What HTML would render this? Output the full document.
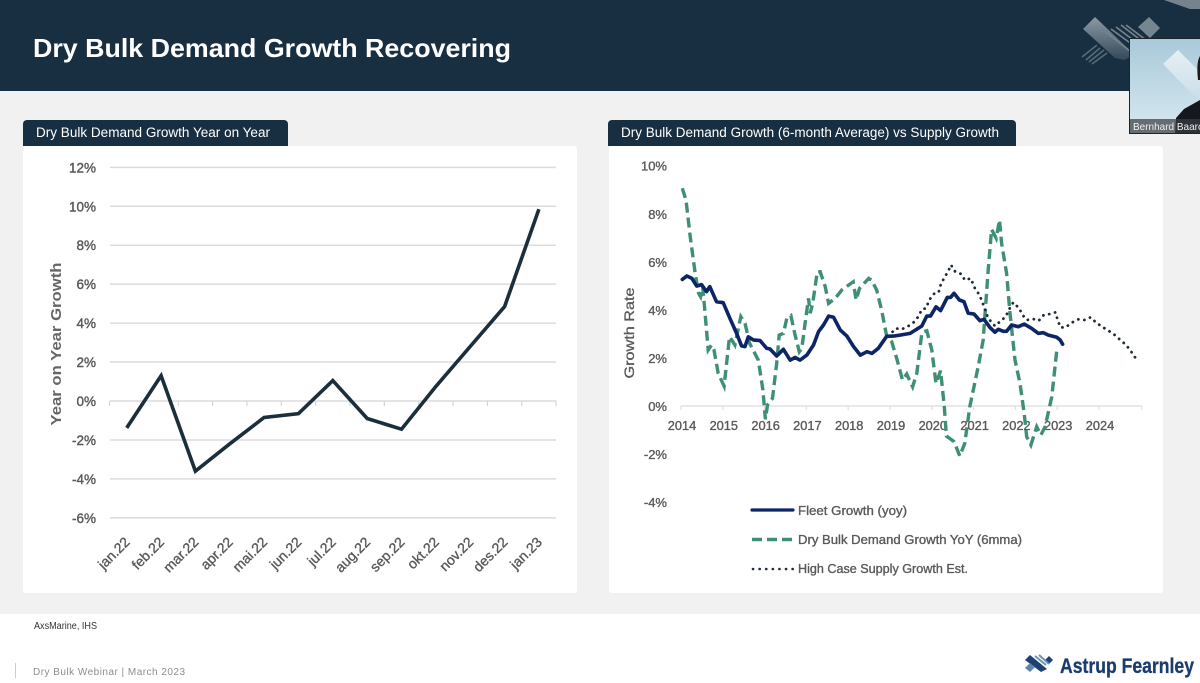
<!DOCTYPE html>
<html lang="en">
<head>
<meta charset="utf-8">
<title>Dry Bulk Demand Growth Recovering</title>
<style>
html,body{margin:0;padding:0;background:#fff;width:1200px;height:683px;overflow:hidden}
svg{display:block}
text{font-family:"Liberation Sans",sans-serif}
</style>
</head>
<body>
<svg id="slide" xmlns="http://www.w3.org/2000/svg" width="1200" height="683" viewBox="0 0 1200 683">
  <defs>
    <linearGradient id="logoGrad" x1="0" y1="0" x2="0" y2="1">
      <stop offset="0" stop-color="#8b99a3"/>
      <stop offset="1" stop-color="#34495a"/>
    </linearGradient>
    <linearGradient id="camGrad" x1="0" y1="0" x2="0" y2="1">
      <stop offset="0" stop-color="#a9c9d9"/>
      <stop offset="1" stop-color="#d8e9f1"/>
    </linearGradient>
    <linearGradient id="camLogoGrad" x1="0" y1="0" x2="0" y2="1">
      <stop offset="0" stop-color="#e6eff3"/>
      <stop offset="1" stop-color="#c9dfe9"/>
    </linearGradient>
    <clipPath id="camClip"><rect x="1130" y="39" width="70" height="94"/></clipPath>
  </defs>

  <rect x="0" y="91" width="1200" height="523" fill="#f1f1f2"/>
  <rect x="0" y="0" width="1200" height="91" fill="#182f42"/>
  <text x="33" y="57" font-size="26" font-weight="700" fill="#ffffff" textLength="478" lengthAdjust="spacingAndGlyphs">Dry Bulk Demand Growth Recovering</text>

  <g>
    <polygon points="1164,0 1200,0 1200,9 1190,9" fill="#74838e"/>
    <polygon points="1083,29 1095,17 1135,55 1124,60 1115,58" fill="url(#logoGrad)"/>
    <polygon points="1138,27 1149,17 1160,28 1150,38" fill="#76868f"/>
    <path d="M1106,32 L1131,52 M1111,29 L1137,48 M1116,27 L1141,46 M1121,25 L1143,42 M1126,25 L1146,40" stroke="#75858f" stroke-width="1.6" fill="none"/>
    <path d="M1082,57 L1097,45 M1086,60 L1100,48 M1089,62 L1104,50 M1092,64 L1107,53" stroke="#566c7b" stroke-width="1.6" fill="none"/>
  </g>

  <g>
    <rect x="1129" y="38" width="71" height="96" fill="#1d2327"/>
    <g clip-path="url(#camClip)">
      <rect x="1130" y="39" width="70" height="94" fill="url(#camGrad)"/>
      <polygon points="1163,64 1178,50 1200,72 1200,100 1190,92" fill="url(#camLogoGrad)"/>
      <path d="M1175,133 L1176,118 L1184,109 L1200,100 L1200,133 Z" fill="#14181d"/>
      <path d="M1198,80 Q1196,62 1200,56 L1200,80 Z" fill="#1c1a1a"/>
      <rect x="1130" y="119" width="70" height="14" fill="#3a3f43" fill-opacity="0.72"/>
      <text x="1133" y="130" font-size="10.5" fill="#f0f0f0" textLength="70" lengthAdjust="spacingAndGlyphs">Bernhard Baarc</text>
    </g>
  </g>

  <rect x="23" y="146" width="554" height="447" rx="3" fill="#ffffff"/>
  <rect x="609" y="146" width="554" height="447" rx="3" fill="#ffffff"/>

  <path d="M23,146 V124 a4,4 0 0 1 4,-4 H284 a4,4 0 0 1 4,4 V146 Z" fill="#182f42"/>
  <text x="36" y="137" font-size="13.5" fill="#ffffff" textLength="234" lengthAdjust="spacingAndGlyphs">Dry Bulk Demand Growth Year on Year</text>
  <path d="M608,146 V124 a4,4 0 0 1 4,-4 H1012 a4,4 0 0 1 4,4 V146 Z" fill="#182f42"/>
  <text x="621" y="137" font-size="13.5" fill="#ffffff" textLength="378" lengthAdjust="spacingAndGlyphs">Dry Bulk Demand Growth (6-month Average) vs Supply Growth</text>

  <g id="leftChart">
    <text transform="translate(61,344) rotate(-90)" text-anchor="middle" font-size="14.5" font-weight="700" fill="#666666" textLength="163" lengthAdjust="spacingAndGlyphs">Year on Year Growth</text>
  </g>

  <g id="rightChart">
    <text transform="translate(634,333) rotate(-90)" text-anchor="middle" font-size="14" fill="#595959" stroke="#595959" stroke-width="0.3" textLength="91" lengthAdjust="spacingAndGlyphs">Growth Rate</text>
  </g>

  <g>
    <g>
      <line x1="752" y1="510" x2="793" y2="510" stroke="#0b2566" stroke-width="3.2" stroke-linecap="round"/>
      <text x="798" y="515" font-size="13" fill="#595959" stroke="#595959" stroke-width="0.35" textLength="109" lengthAdjust="spacingAndGlyphs">Fleet Growth (yoy)</text>
    </g>
    <g>
      <line x1="752" y1="539.5" x2="793" y2="539.5" stroke="#3f8f77" stroke-width="3.4" stroke-dasharray="10 5"/>
      <text x="798" y="544" font-size="13" fill="#595959" stroke="#595959" stroke-width="0.35" textLength="224" lengthAdjust="spacingAndGlyphs">Dry Bulk Demand Growth YoY (6mma)</text>
    </g>
    <g>
      <line x1="753" y1="569" x2="793" y2="569" stroke="#1d2c38" stroke-width="2.6" stroke-dasharray="0.1 6.5" stroke-linecap="round"/>
      <text x="798" y="573" font-size="13" fill="#595959" stroke="#595959" stroke-width="0.35" textLength="170" lengthAdjust="spacingAndGlyphs">High Case Supply Growth Est.</text>
    </g>
  </g>

  <text x="34" y="629" font-size="10" fill="#333333" textLength="63" lengthAdjust="spacingAndGlyphs">AxsMarine, IHS</text>
  <line x1="15.5" y1="663" x2="15.5" y2="678" stroke="#c9cdd0" stroke-width="1"/>
  <text x="33" y="675" font-size="10" fill="#8a8f93" textLength="152" lengthAdjust="spacing">Dry Bulk Webinar | March 2023</text>

  <g>
    <polygon points="1025,660 1030,655 1047,669 1041,672" fill="#1c4272"/>
    <polygon points="1045,660 1049,656 1053,660 1049,664" fill="#1c4272"/>
    <path d="M1035,656 L1046,665 M1039,655 L1049,664" stroke="#6f90b5" stroke-width="2" fill="none"/>
    <polygon points="1025,668 1030,663 1035,667 1030,672" fill="#5f84ad"/>
    <text x="1060" y="673" font-size="21" font-weight="700" fill="#1a3c6e" stroke="#1a3c6e" stroke-width="0.3" textLength="134" lengthAdjust="spacingAndGlyphs">Astrup Fearnley</text>
  </g>
</svg>

<script>
// Left chart data
const leftCategories = ['jan.22','feb.22','mar.22','apr.22','mai.22','jun.22','jul.22','aug.22','sep.22','okt.22','nov.22','des.22','jan.23'];
const leftValues = [-1.38,1.3,-3.6,-2.2,-0.85,-0.65,1.05,-0.9,-1.45,0.75,2.8,4.85,9.85];
const leftTicks = [12,10,8,6,4,2,0,-2,-4,-6];

// Right chart data
const rightTicks = [10,8,6,4,2,0,-2,-4];
const rightYears = [2014,2015,2016,2017,2018,2019,2020,2021,2022,2023,2024];
const fleetDates = [2014.03,2014.14,2014.26,2014.375,2014.49,2014.61,2014.69,2014.85,2015.01,2015.17,2015.33,2015.45,2015.53,2015.61,2015.73,2015.89,2016.05,2016.13,2016.29,2016.45,2016.61,2016.73,2016.85,2017.01,2017.17,2017.29,2017.41,2017.53,2017.65,2017.81,2017.97,2018.13,2018.29,2018.45,2018.57,2018.72,2018.92,2019.08,2019.24,2019.48,2019.76,2019.88,2019.97,2020.10,2020.21,2020.37,2020.45,2020.53,2020.66,2020.77,2020.87,2021.01,2021.15,2021.25,2021.39,2021.51,2021.59,2021.71,2021.79,2021.91,2022.07,2022.21,2022.39,2022.55,2022.67,2022.79,2022.99,2023.07,2023.13];
const fleetValues = [5.27,5.41,5.31,4.99,5.05,4.76,4.97,4.34,4.30,3.65,3.02,2.50,2.47,2.88,2.75,2.72,2.40,2.37,2.08,2.36,1.91,2.02,1.91,2.12,2.54,3.09,3.37,3.74,3.69,3.16,2.91,2.47,2.12,2.26,2.19,2.40,2.90,2.91,2.95,3.02,3.33,3.74,3.74,4.13,3.97,4.52,4.52,4.69,4.41,4.34,3.86,3.83,3.55,3.61,3.27,3.07,3.19,3.11,3.11,3.37,3.30,3.41,3.23,3.02,3.05,2.95,2.86,2.75,2.57];
const demandDates = [2014.03,2014.12,2014.22,2014.34,2014.42,2014.47,2014.52,2014.57,2014.65,2014.73,2014.79,2014.89,2015.03,2015.09,2015.16,2015.24,2015.29,2015.43,2015.53,2015.64,2015.85,2015.96,2016.02,2016.07,2016.19,2016.29,2016.35,2016.45,2016.53,2016.63,2016.73,2016.83,2016.89,2016.97,2017.05,2017.09,2017.15,2017.26,2017.33,2017.45,2017.53,2017.69,2017.85,2018.12,2018.19,2018.27,2018.49,2018.56,2018.68,2018.80,2018.92,2019.04,2019.16,2019.30,2019.40,2019.54,2019.64,2019.76,2019.80,2019.88,2020.00,2020.10,2020.21,2020.30,2020.35,2020.53,2020.67,2020.79,2020.91,2021.11,2021.23,2021.35,2021.43,2021.54,2021.62,2021.67,2021.79,2021.87,2021.99,2022.11,2022.21,2022.27,2022.37,2022.51,2022.61,2022.71,2022.87,2023.00];
const demandValues = [9.06,8.57,7.05,5.52,4.69,4.55,4.97,3.99,2.33,2.54,2.33,1.36,0.83,1.78,2.88,2.68,2.54,3.72,3.44,2.61,1.91,0.67,-0.55,0.04,0.32,1.78,2.95,3.02,3.65,3.76,2.95,2.26,2.40,3.44,4.48,3.86,4.27,5.59,5.59,4.97,4.27,4.48,4.83,5.17,4.41,4.90,5.31,5.24,4.83,3.99,2.90,2.68,1.98,1.08,1.33,0.80,1.36,3.02,3.09,3.13,2.33,0.94,1.47,-0.03,-1.25,-1.48,-2.08,-1.55,-0.03,1.64,2.75,5.66,7.35,6.98,7.74,6.77,5.52,3.86,1.91,0.94,-0.31,-1.28,-1.62,-0.86,-1.21,-0.86,0.39,2.47];
const supplyDates = [2018.96,2019.14,2019.28,2019.44,2019.56,2019.68,2019.76,2019.86,2019.94,2020.04,2020.16,2020.21,2020.29,2020.40,2020.46,2020.56,2020.71,2020.79,2020.93,2021.03,2021.14,2021.22,2021.35,2021.51,2021.63,2021.77,2021.85,2021.95,2022.09,2022.17,2022.27,2022.43,2022.56,2022.68,2022.83,2022.96,2023.01,2023.08,2023.20,2023.35,2023.51,2023.65,2023.80,2023.93,2024.08,2024.23,2024.38,2024.52,2024.65,2024.77,2024.88];
const supplyValues = [2.91,3.23,3.19,3.33,3.47,3.72,4.02,4.06,4.41,4.66,4.72,5.03,5.31,5.63,5.87,5.59,5.49,5.24,5.31,4.90,4.62,4.27,3.65,3.33,3.51,3.72,4.02,4.31,4.06,3.79,3.58,3.62,3.55,3.79,3.83,3.90,3.58,3.27,3.27,3.47,3.61,3.58,3.69,3.47,3.29,3.13,2.95,2.73,2.54,2.26,1.98];

const SVG_NS = 'http://www.w3.org/2000/svg';
function make(tag, parent, attrs, content) {
  const el = document.createElementNS(SVG_NS, tag);
  for (const key in attrs) el.setAttribute(key, attrs[key]);
  if (content !== undefined) el.textContent = content;
  parent.appendChild(el);
  return el;
}
function pathFrom(xs, ys) {
  return xs.map((x, i) => (i ? 'L' : 'M') + x.toFixed(1) + ',' + ys[i].toFixed(1)).join(' ');
}

// Left chart axes
const leftX = i => 126.7 + i * 34.35;
const leftY = v => 401 - v * 19.47;
const leftGroup = document.getElementById('leftChart');

leftTicks.forEach(t => {
  const grid = make('line', leftGroup, {x1: 110, x2: 556, y1: leftY(t), y2: leftY(t), stroke: '#dcdcdf', 'stroke-width': 1.5});
  
  
  const label = make('text', leftGroup, {x: 96, y: leftY(t) + 5, 'text-anchor': 'end', 'font-size': 13.5, fill: '#595959', stroke: '#595959', 'stroke-width': 0.4}, t + '%');
  
  
});
leftCategories.forEach((c, i) => {
  const tick = make('line', leftGroup, {x1: leftX(i) - 17.17, x2: leftX(i) - 17.17, y1: leftY(0), y2: leftY(0) + 5, stroke: '#d5d5d8', 'stroke-width': 1.2});
  
  
  const label = make('text', leftGroup, {transform: 'translate(' + (leftX(i) + 4) + ',543) rotate(-45)', 'text-anchor': 'end', 'font-size': 14, fill: '#595959', stroke: '#595959', 'stroke-width': 0.35}, c);
  
  
});
const endTick = make('line', leftGroup, {x1: 556, x2: 556, y1: leftY(0), y2: leftY(0) + 5, stroke: '#d5d5d8', 'stroke-width': 1.2});


const leftLine = make('path', leftGroup, {d: pathFrom(leftValues.map((v, i) => leftX(i)), leftValues.map(leftY)), fill: 'none', stroke: '#1a2e3b', 'stroke-width': 3.6, 'stroke-linejoin': 'miter'});



// Right chart axes
const rightX = year => 681 + (year - 2014) * 41.8;
const rightY = v => 406 - v * 24.03;
const rightGroup = document.getElementById('rightChart');

const rightAxis = make('line', rightGroup, {x1: rightX(2014), x2: 1141.7, y1: rightY(0), y2: rightY(0), stroke: '#e2e2e4', 'stroke-width': 1.5});


rightTicks.forEach(t => {
  const label = make('text', rightGroup, {x: 667, y: rightY(t) + 5, 'text-anchor': 'end', 'font-size': 13, fill: '#595959', stroke: '#595959', 'stroke-width': 0.35}, t + '%');
  
  
});
rightYears.forEach(y => {
  const tick = make('line', rightGroup, {x1: rightX(y), x2: rightX(y), y1: rightY(0), y2: rightY(0) + 4, stroke: '#e0e0e2', 'stroke-width': 1.2});
  
  
  const label = make('text', rightGroup, {x: rightX(y) + 1, y: 430, 'text-anchor': 'middle', 'font-size': 12.8, fill: '#595959', stroke: '#595959', 'stroke-width': 0.35}, String(y));
  
  
});
const rightEndTick = make('line', rightGroup, {x1: 1141.7, x2: 1141.7, y1: rightY(0), y2: rightY(0) + 4, stroke: '#e0e0e2', 'stroke-width': 1.2});



const demandLine = make('path', rightGroup, {d: pathFrom(demandDates.map(rightX), demandValues.map(rightY)), fill: 'none', stroke: '#3f8f77', 'stroke-width': 3.4, 'stroke-dasharray': '10 5'});


const supplyLine = make('path', rightGroup, {d: pathFrom(supplyDates.map(rightX), supplyValues.map(rightY)), fill: 'none', stroke: '#1d2c38', 'stroke-width': 2.8, 'stroke-dasharray': '0.1 6', 'stroke-linecap': 'round'});


const fleetLine = make('path', rightGroup, {d: pathFrom(fleetDates.map(rightX), fleetValues.map(rightY)), fill: 'none', stroke: '#0b2566', 'stroke-width': 3.6, 'stroke-linejoin': 'round', 'stroke-linecap': 'round'});


</script>
</body>
</html>
